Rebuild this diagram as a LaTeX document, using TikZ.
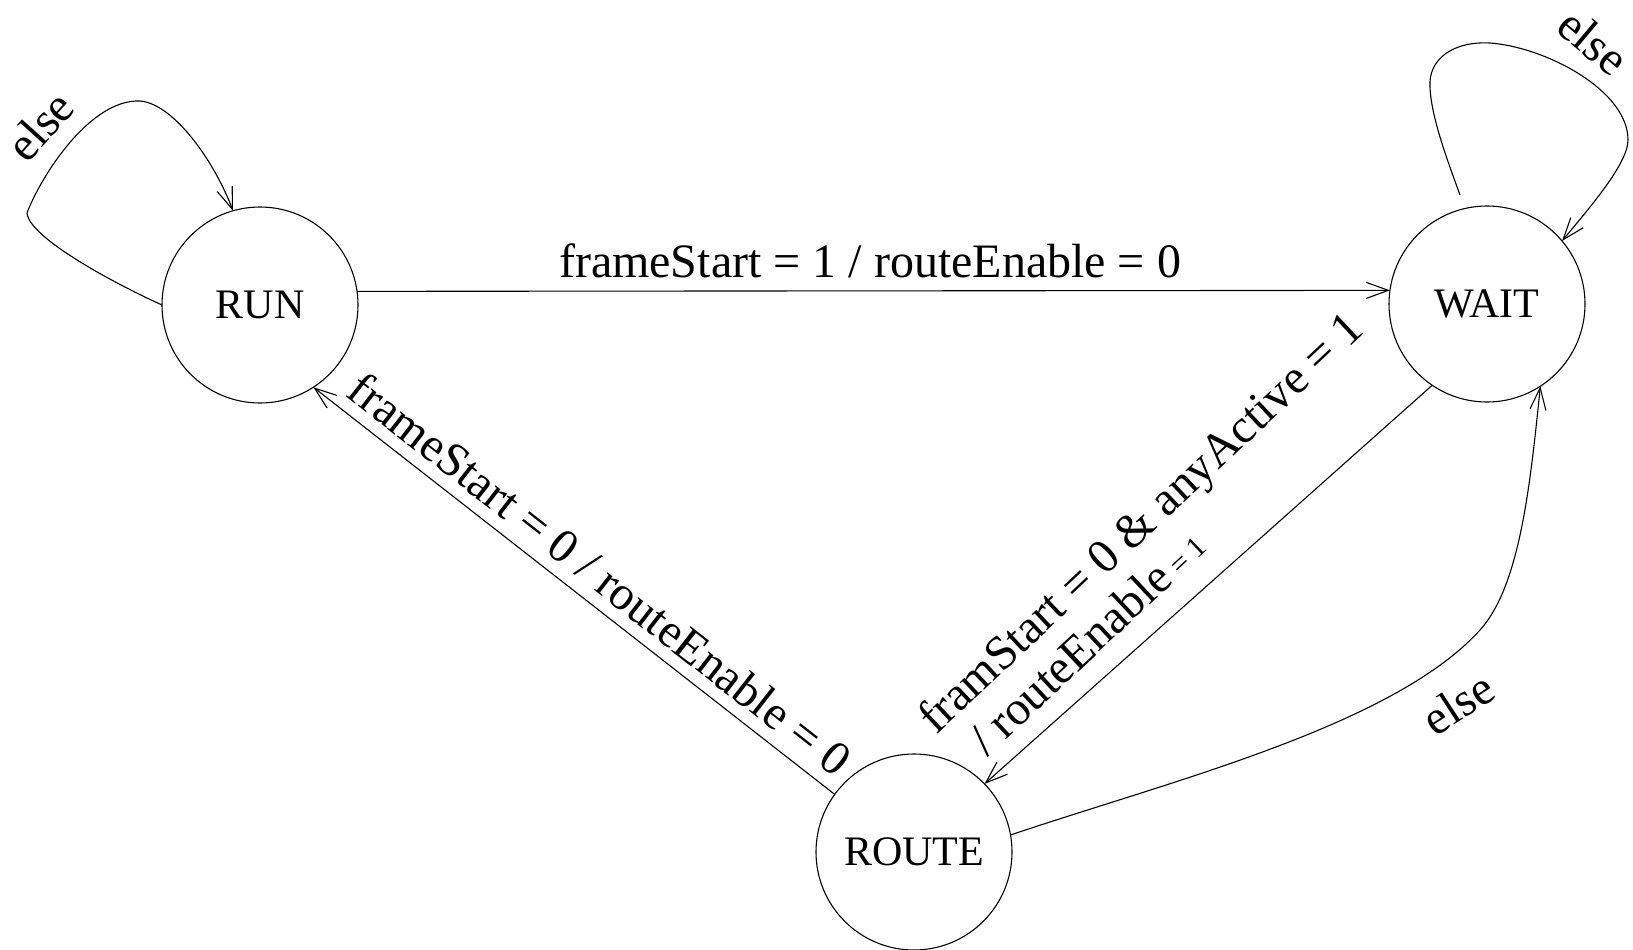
\documentclass[tikz,border=0pt]{standalone}
\usepackage{fontspec}
\setmainfont{Liberation Serif}
\usetikzlibrary{arrows.meta}

\begin{document}
\begin{tikzpicture}[x=1pt,y=-1pt,
  state/.style={circle, draw, line width=1.1pt, minimum size=196pt,
    inner sep=0pt, outer sep=0pt, font=\fontsize{42}{50}\selectfont},
  trans/.style={line width=1.1pt,
    -{Straight Barb[length=22pt,width=16pt]}},
  lbl/.style={font=\fontsize{48}{56}\selectfont, inner sep=0pt, anchor=base}]

\useasboundingbox (0,0) rectangle (1633,950);

% states
\node[state] (RUN)   at (260,305)  {RUN};
\node[state] (WAIT)  at (1487,304) {WAIT};
\node[state] (ROUTE) at (914,852)  {ROUTE};

% loose start of the WAIT self-loop
\coordinate (waitLoopStart) at (1460,195);

% RUN -> WAIT
\draw[trans] (RUN.8) -- (WAIT.172);
\node[lbl] (lblRunWait) at (870,277) {frameStart = 1 / routeEnable = 0};

% ROUTE -> RUN
\draw[trans] (ROUTE.144) -- (RUN.-57);
\node[lbl, rotate=-38] (lblRouteRun) at (590,587) {frameStart = 0 / routeEnable = 0};

% WAIT -> ROUTE
\draw[trans] (WAIT.236) -- (ROUTE.44);
\node[lbl, anchor=base west, rotate=43.2] (lblWaitRouteA) at (936,736)
  {framStart = 0 \& anyActive = 1};
\node[lbl, anchor=base west, rotate=43.2] (lblWaitRouteB) at (987,758)
  {/ routeEnable{\fontsize{30}{36}\selectfont\ = 1}};

% ROUTE -> WAIT (else)
\draw[trans] (ROUTE.10) .. controls (1171.5,780.6) and (1393,726) .. (1480,630)
  .. controls (1520,585.6) and (1530,486) .. (WAIT.-57);
\node[lbl, rotate=33] (lblRouteElse) at (1467,717) {else};

% RUN self-loop
\draw[trans] (RUN.180) .. controls (116.5,284.5) and (29,238) .. (27,213)
  .. controls (41,176) and (90,99) .. (140,101)
  .. controls (175,104) and (215.5,164) .. (RUN.106);
\node[lbl, rotate=48] (lblRunElse) at (52,137) {else};

% WAIT self-loop
\draw[trans] (waitLoopStart) .. controls (1448,162) and (1431,117) .. (1430,87)
  .. controls (1428,60) and (1452,41) .. (1490,43)
  .. controls (1545,47) and (1628,90) .. (1628,140)
  .. controls (1628,165) and (1584,214) .. (WAIT.40);
\node[lbl, rotate=-40] (lblWaitElse) at (1583,54) {else};

\end{tikzpicture}
\end{document}
